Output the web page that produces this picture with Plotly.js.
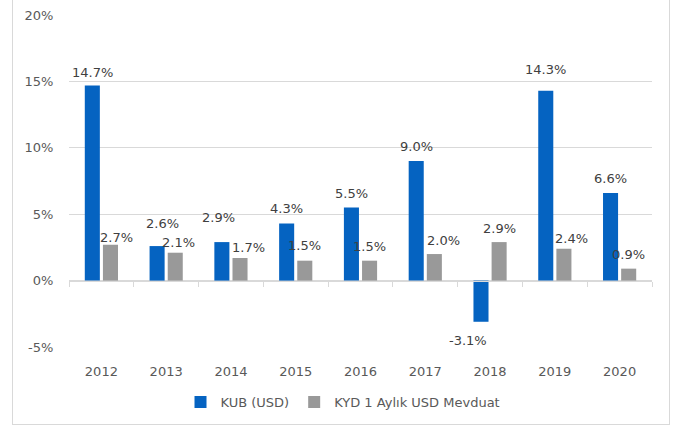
<!DOCTYPE html>
<html>
<head>
<meta charset="utf-8">
<script src="https://cdn.plot.ly/plotly-3.0.1.min.js"></script>
<style>
  html, body { margin: 0; padding: 0; background: #ffffff; }
  #frame { position: absolute; left: 12px; top: -6px; width: 658px; height: 431px; border: 1px solid #d9d9d9; box-sizing: border-box; }
  #chart { position: absolute; left: 0; top: 0; width: 680px; height: 428px; }
</style>
</head>
<body>
<div id="frame"></div>
<div id="chart"></div>
<script>
const years = ["2012", "2013", "2014", "2015", "2016", "2017", "2018", "2019", "2020"];
const kubUsd = [14.7, 2.6, 2.9, 4.3, 5.5, 9.0, -3.1, 14.3, 6.6];
const kydUsd = [2.7, 2.1, 1.7, 1.5, 1.5, 2.0, 2.9, 2.4, 0.9];
const seriesNames = ["KUB (USD)", "KYD 1 Aylık USD Mevduat"];
const yTicks = [-5, 0, 5, 10, 15, 20];

// label placement nudges (pixels) as in the reference, per series
const kubLabelDx = [0, 5, -3, 0, 0, 0, -13, 0, 0];
const kubLabelDy = [13, 23, 25, 15, 14, 15, -19, 21, 14];
const kydLabelDx = [6, 3, 9, 0, 0, 9, 0, 8, 0];
const kydLabelDy = [7, 10, 11, 15, 14, 14, 14, 10, 14];

const font = "DejaVu Sans, Verdana, sans-serif";
const labelFont = { family: font, size: 13, color: "#404040" };
const colors = ["#0563c1", "#999999"];
const groupShift = [-9, 9];

const traces = [
  {
    type: "bar", name: seriesNames[0], x: years, y: kubUsd,
    marker: { color: colors[0] }, hoverinfo: "skip"
  },
  {
    type: "bar", name: seriesNames[1], x: years, y: kydUsd,
    marker: { color: colors[1] }, hoverinfo: "skip"
  },
  {
    type: "scatter", mode: "none", x: years, y: years.map(function () { return null; }),
    xaxis: "x2", yaxis: "y", showlegend: false, hoverinfo: "skip"
  }
];

const annotations = [];
[[kubUsd, kubLabelDx, kubLabelDy], [kydUsd, kydLabelDx, kydLabelDy]].forEach(function (s, si) {
  const vals = s[0], dx = s[1], dy = s[2];
  vals.forEach(function (v, i) {
    annotations.push({
      x: i, y: v, xref: "x", yref: "y",
      text: v.toFixed(1) + "%", showarrow: false,
      xanchor: "center", yanchor: "middle",
      xshift: groupShift[si] + dx[i], yshift: dy[i],
      font: labelFont
    });
  });
});

const layout = {
  width: 680, height: 428,
  margin: { l: 69, r: 28, t: 15, b: 80 },
  paper_bgcolor: "rgba(0,0,0,0)",
  plot_bgcolor: "rgba(0,0,0,0)",
  barmode: "group",
  bargap: 0.44,
  bargroupgap: 0.17,
  font: { family: font, size: 13, color: "#595959" },
  annotations: annotations,
  xaxis: {
    type: "category", categoryorder: "array", categoryarray: years,
    range: [-0.5, 8.5],
    showgrid: false, showline: false, zeroline: false,
    ticks: "outside", ticklen: 12, tickcolor: "rgba(0,0,0,0)",
    tickfont: { family: font, size: 13, color: "#595959" }
  },
  xaxis2: {
    type: "category", categoryorder: "array", categoryarray: years,
    overlaying: "x", anchor: "free", position: 0.2,
    range: [-0.5, 8.5],
    showgrid: false, showline: true, linecolor: "#d9d9d9", linewidth: 1,
    ticks: "outside", tickson: "boundaries", ticklen: 5, tickcolor: "#d9d9d9", tickwidth: 1,
    showticklabels: false, zeroline: false
  },
  yaxis: {
    range: [-5, 20], tickvals: yTicks, ticktext: yTicks.map(function (v) { return v + "%"; }),
    showgrid: true, gridcolor: "#d9d9d9", gridwidth: 1,
    zeroline: false, showline: false,
    ticks: "outside", ticklen: 12, tickcolor: "rgba(0,0,0,0)",
    tickfont: { family: font, size: 13, color: "#595959" }
  },
  showlegend: true,
  legend: {
    orientation: "h", x: 0.47, xanchor: "center", y: -0.162, yanchor: "middle",
    font: { family: font, size: 13, color: "#595959" },
    itemclick: false, itemdoubleclick: false, traceorder: "normal"
  }
};

Plotly.newPlot("chart", traces, layout, { displayModeBar: false, staticPlot: true });
</script>
</body>
</html>
